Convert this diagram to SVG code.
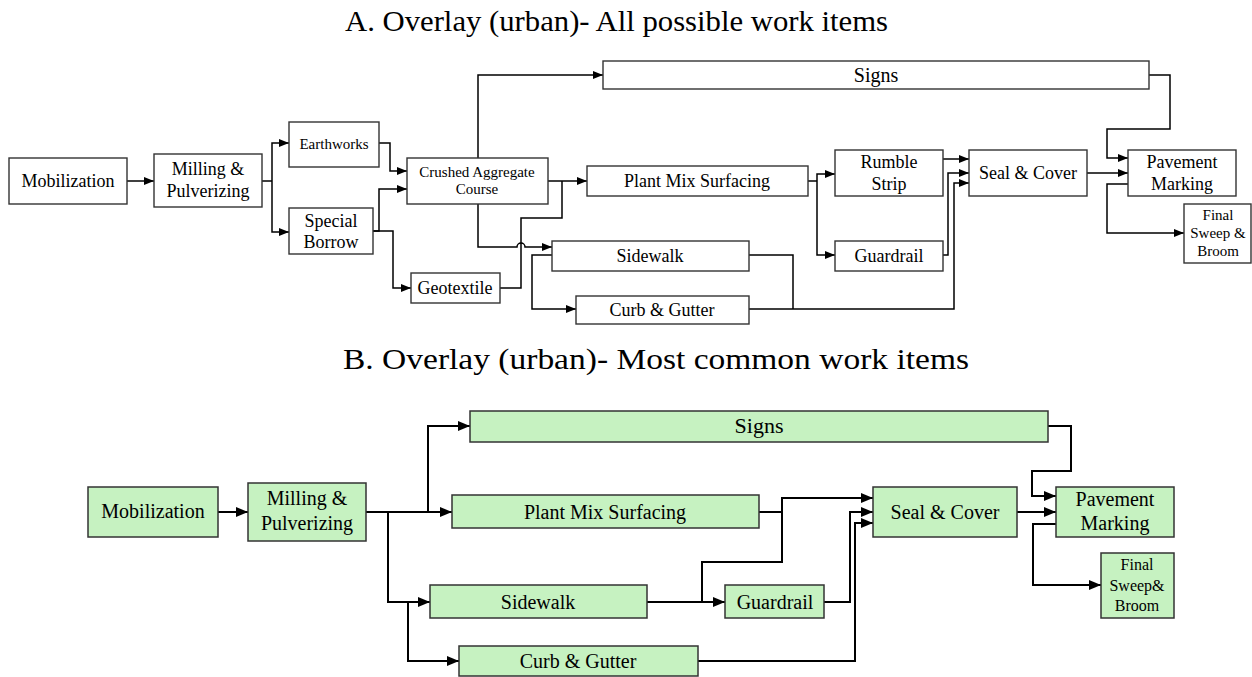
<svg xmlns="http://www.w3.org/2000/svg" width="1252" height="677" viewBox="0 0 1252 677">
<style>
text{font-family:"Liberation Serif","Times New Roman",serif;fill:#000;text-anchor:middle}
.t{font-size:18px}
.s{font-size:15px}
.b{font-size:20px}
.bs{font-size:16px}
.title{text-anchor:start}
.box{fill:#fff;stroke:#333;stroke-width:1.4}
.gbox{fill:#c6f2c1;stroke:#333;stroke-width:1.5}
.c{fill:none;stroke:#000;stroke-width:1.5}
.c2{fill:none;stroke:#000;stroke-width:2}
</style>
<defs>
<marker id="ah" viewBox="0 0 10 8" refX="10" refY="4" markerWidth="10" markerHeight="8" markerUnits="userSpaceOnUse" orient="auto"><path d="M0,0 L10,4 L0,8z" fill="#000"/></marker>
<marker id="ah2" viewBox="0 0 12 10" refX="12" refY="5" markerWidth="12" markerHeight="10" markerUnits="userSpaceOnUse" orient="auto"><path d="M0,0 L12,5 L0,10z" fill="#000"/></marker>
</defs>
<text class="title" x="345" y="31" font-size="30" textLength="543" lengthAdjust="spacingAndGlyphs">A. Overlay (urban)- All possible work items</text>
<text class="title" x="343" y="369" font-size="30" textLength="626" lengthAdjust="spacingAndGlyphs">B. Overlay (urban)- Most common work items</text>

<g id="connectors-a">
<path class="c" marker-end="url(#ah)" d="M127,181 H154"/>
<path class="c" d="M262,181 H272"/>
<path class="c" marker-end="url(#ah)" d="M272,181 V143 H289"/>
<path class="c" marker-end="url(#ah)" d="M272,181 V232 H289"/>
<path class="c" marker-end="url(#ah)" d="M379,143 H390 V171 H407"/>
<path class="c" marker-end="url(#ah)" d="M373,231 H379 V189 H407"/>
<path class="c" marker-end="url(#ah)" d="M373,231 H393 V288 H411"/>
<path class="c" marker-end="url(#ah)" d="M478,158 V75 H603"/>
<path class="c" marker-end="url(#ah)" d="M548,181 H587"/>
<path class="c" d="M500,288 H521 V218 H562 V181"/>
<path class="c" marker-end="url(#ah)" d="M478,204 V247 H517 A4,4 0 0 1 525,247 H552"/>
<path class="c" marker-end="url(#ah)" d="M552,255 H532 V309 H576"/>
<path class="c" d="M749,255 H793 V309"/>
<path class="c" marker-end="url(#ah)" d="M749,309 H954 V183 H969"/>
<path class="c" d="M808,181 H817"/>
<path class="c" marker-end="url(#ah)" d="M817,181 V174 H835"/>
<path class="c" marker-end="url(#ah)" d="M817,181 V255 H835"/>
<path class="c" marker-end="url(#ah)" d="M943,159 H969"/>
<path class="c" marker-end="url(#ah)" d="M943,255 H948 V173 H969"/>
<path class="c" marker-end="url(#ah)" d="M1087,173 H1128"/>
<path class="c" marker-end="url(#ah)" d="M1149,75 H1170 V129 H1107 V158 H1128"/>
<path class="c" marker-end="url(#ah)" d="M1128,184 H1107 V233 H1184"/>
</g>

<g id="a-mobilization"><rect class="box" x="9" y="158" width="118" height="46"/><text class="t" x="68" y="187">Mobilization</text></g>
<g id="a-milling"><rect class="box" x="154" y="154" width="108" height="53"/><text class="t" x="208" y="175">Milling &amp;</text><text class="t" x="208" y="197">Pulverizing</text></g>
<g id="a-earthworks"><rect class="box" x="289" y="122" width="90" height="45"/><text class="s" x="334" y="149">Earthworks</text></g>
<g id="a-borrow"><rect class="box" x="289" y="208" width="84" height="46"/><text class="t" x="331" y="227">Special</text><text class="t" x="331" y="248">Borrow</text></g>
<g id="a-crushed"><rect class="box" x="407" y="158" width="141" height="46"/><text class="s" x="477" y="177">Crushed Aggregate</text><text class="s" x="477" y="194">Course</text></g>
<g id="a-geotextile"><rect class="box" x="411" y="273" width="89" height="30"/><text class="t" x="455" y="294">Geotextile</text></g>
<g id="a-signs"><rect class="box" x="603" y="61" width="546" height="28"/><text class="b" x="876" y="82">Signs</text></g>
<g id="a-plantmix"><rect class="box" x="587" y="166" width="221" height="30"/><text class="t" x="697" y="187">Plant Mix Surfacing</text></g>
<g id="a-sidewalk"><rect class="box" x="552" y="241" width="197" height="30"/><text class="t" x="650" y="262">Sidewalk</text></g>
<g id="a-curb"><rect class="box" x="576" y="296" width="173" height="28"/><text class="t" x="662" y="316">Curb &amp; Gutter</text></g>
<g id="a-rumble"><rect class="box" x="835" y="150" width="108" height="46"/><text class="t" x="889" y="168">Rumble</text><text class="t" x="889" y="190">Strip</text></g>
<g id="a-guardrail"><rect class="box" x="835" y="241" width="108" height="30"/><text class="t" x="889" y="262">Guardrail</text></g>
<g id="a-seal"><rect class="box" x="969" y="150" width="118" height="46"/><text class="t" x="1028" y="179">Seal &amp; Cover</text></g>
<g id="a-pavement"><rect class="box" x="1128" y="150" width="108" height="46"/><text class="t" x="1182" y="168">Pavement</text><text class="t" x="1182" y="190">Marking</text></g>
<g id="a-final"><rect class="box" x="1184" y="204" width="67" height="59"/><text class="s" x="1218" y="220">Final</text><text class="s" x="1218" y="238">Sweep &amp;</text><text class="s" x="1218" y="256">Broom</text></g>

<g id="connectors-b">
<path class="c2" marker-end="url(#ah2)" d="M218,512 H248"/>
<path class="c2" marker-end="url(#ah2)" d="M366,512 H452"/>
<path class="c2" marker-end="url(#ah2)" d="M428,512 V426 H470"/>
<path class="c2" marker-end="url(#ah2)" d="M388,512 V602 H430"/>
<path class="c2" marker-end="url(#ah2)" d="M408,602 V661 H459"/>
<path class="c2" marker-end="url(#ah2)" d="M759,512 H782 V498 H873"/>
<path class="c2" marker-end="url(#ah2)" d="M647,602 H725"/>
<path class="c2" d="M702,602 V562 H782 V498"/>
<path class="c2" marker-end="url(#ah2)" d="M824,602 H850 V512 H873"/>
<path class="c2" marker-end="url(#ah2)" d="M698,661 H855 V523 H873"/>
<path class="c2" marker-end="url(#ah2)" d="M1017,512 H1056"/>
<path class="c2" marker-end="url(#ah2)" d="M1048,426 H1071 V471 H1032 V496 H1056"/>
<path class="c2" marker-end="url(#ah2)" d="M1056,524 H1033 V585 H1101"/>
</g>

<g id="b-mobilization"><rect class="gbox" x="88" y="487" width="130" height="50"/><text class="b" x="153" y="518">Mobilization</text></g>
<g id="b-milling"><rect class="gbox" x="248" y="483" width="118" height="58"/><text class="b" x="307" y="505">Milling &amp;</text><text class="b" x="307" y="530">Pulverizing</text></g>
<g id="b-signs"><rect class="gbox" x="470" y="411" width="578" height="31"/><text x="759" y="433" font-size="22">Signs</text></g>
<g id="b-plantmix"><rect class="gbox" x="452" y="495" width="307" height="33"/><text class="b" x="605" y="519">Plant Mix Surfacing</text></g>
<g id="b-sidewalk"><rect class="gbox" x="430" y="585" width="217" height="33"/><text class="b" x="538" y="609">Sidewalk</text></g>
<g id="b-curb"><rect class="gbox" x="459" y="646" width="239" height="30"/><text class="b" x="578" y="668">Curb &amp; Gutter</text></g>
<g id="b-guardrail"><rect class="gbox" x="725" y="585" width="99" height="33"/><text class="b" x="775" y="609">Guardrail</text></g>
<g id="b-seal"><rect class="gbox" x="873" y="487" width="144" height="50"/><text class="b" x="945" y="519">Seal &amp; Cover</text></g>
<g id="b-pavement"><rect class="gbox" x="1056" y="487" width="118" height="50"/><text class="b" x="1115" y="506">Pavement</text><text class="b" x="1115" y="530">Marking</text></g>
<g id="b-final"><rect class="gbox" x="1101" y="553" width="73" height="65"/><text class="bs" x="1137" y="570">Final</text><text class="bs" x="1137" y="591">Sweep&amp;</text><text class="bs" x="1137" y="611">Broom</text></g>
</svg>
